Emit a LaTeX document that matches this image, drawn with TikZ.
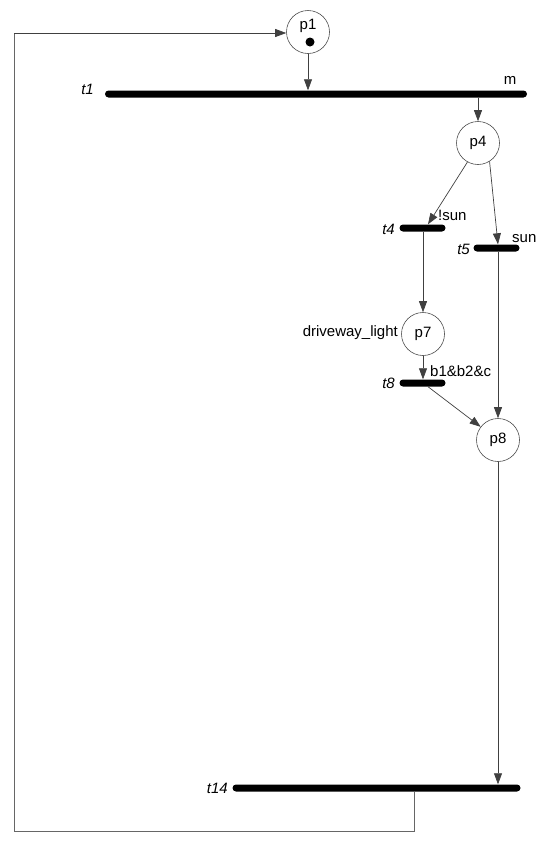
\documentclass[tikz,border=0pt]{standalone}
\usepackage{fontspec}
\setmainfont{Liberation Sans}
\usetikzlibrary{arrows.meta,calc}
\begin{document}
\begin{tikzpicture}[x=1pt,y=-1pt,
  place/.style={circle,draw=black!70,line width=0.6pt,minimum size=43pt,inner sep=0pt,font=\fontsize{15}{17}\selectfont},
  bar/.style={fill=black,rounded corners=3.5pt,minimum height=7pt,inner sep=0pt},
  arc/.style={draw=black!75,line width=0.7pt,-{Triangle[length=11pt,width=8pt]}},
  line/.style={draw=black!60,line width=1pt},
  tlab/.style={font=\fontsize{15}{17}\selectfont\itshape,inner sep=0pt},
  glab/.style={font=\fontsize{15}{17}\selectfont,inner sep=0pt}]
\useasboundingbox (0,0) rectangle (550,844);
\node[place] (p1) at (308,32) {};
\node[glab] (p1t) at (308,26) {p1};
\node[circle,fill=black,inner sep=0pt,minimum size=9pt] (tok) at (310,42) {};
\node[bar,minimum width=422pt] (t1) at (316,94) {};
\node[tlab,anchor=east] (t1l) at (94,89) {t1};
\node[glab] (m) at (510,80) {m};
\node[place] (p4) at (478,143) {p4};
\node[bar,minimum width=46pt] (t4) at (422.5,228) {};
\node[tlab,anchor=east] (t4l) at (395,229) {t4};
\node[glab,anchor=west] (t4g) at (438,215) {!sun};
\node[bar,minimum width=46pt] (t5) at (496.5,248) {};
\node[tlab,anchor=east] (t5l) at (470,249) {t5};
\node[glab,anchor=west] (t5g) at (512,239) {sun};
\node[place] (p7) at (423,334) {p7};
\node[glab,anchor=east] (p7g) at (398,333) {driveway\_light};
\node[bar,minimum width=46pt] (t8) at (422.5,383) {};
\node[tlab,anchor=east] (t8l) at (395,383) {t8};
\node[glab,anchor=west] (t8g) at (430,371) {b1\&b2\&c};
\node[place] (p8) at (498,440) {p8};
\node[bar,minimum width=288pt] (t14) at (376.5,788) {};
\node[tlab,anchor=east] (t14l) at (228,788) {t14};
\coordinate (c1) at (414,831);
\coordinate (c2) at (14,831);
\coordinate (c3) at (14,33);
\draw[arc] (p1) -- (p1 |- t1.north);
\draw[arc] (p4 |- t1.south) -- (p4);
\draw[arc] (p4.-119) -- ($(t4.north)+(5.5,0)$);
\draw[arc] (p4.-58) -- ($(t5.north)+(1.5,0)$);
\draw[arc] (t4.south -| p7) -- (p7);
\draw[arc] (p7) -- (p7 |- t8.north);
\draw[arc] ($(t8.south)+(5.5,0)$) -- (p8);
\draw[arc] (t5.south -| p8) -- (p8);
\draw[arc] (p8) -- (p8 |- t14.north);
\draw[line] (t14.south -| c1) -- (c1) -- (c2) -- (c3);
\draw[arc] (c3) -- (c3 -| p1.west);
\end{tikzpicture}
\end{document}
